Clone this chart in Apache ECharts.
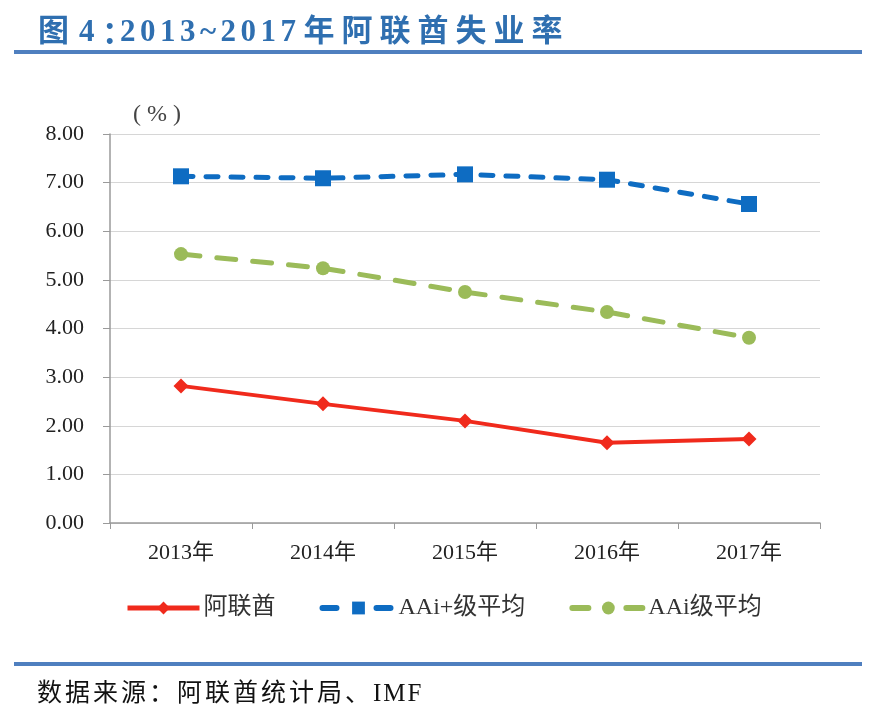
<!DOCTYPE html>
<html><head><meta charset="utf-8">
<script src="https://cdn.jsdelivr.net/npm/echarts@6/dist/echarts.min.js"></script>
<style>html,body{margin:0;padding:0;background:#fff}#c{width:876px;height:718px}</style>
</head><body><div id="c"></div>
<script>
const categories = ['2013年','2014年','2015年','2016年','2017年'];
const uae = [2.82, 2.45, 2.10, 1.65, 1.73];
const aaiPlus = [7.13, 7.09, 7.17, 7.06, 6.56];
const aai = [5.53, 5.24, 4.75, 4.34, 3.81];
const yTicks = [0, 8, 1];
const titleText = '图 4：2013~2017 年阿联酋失业率';
const sourceText = '数据来源：阿联酋统计局、IMF';
const unitText = '(%)';

const serif = '"Liberation Serif","Times New Roman","Noto Sans CJK SC",serif';
const ctx = document.createElement('canvas').getContext('2d');
const isCJK = ch => /[\u3000-\u9fff\uff00-\uffef]/.test(ch);
function spacedText(str, x, y, font, spCJK, spOther, color, over) {
  ctx.font = font;
  over = over || {};
  const out = [];
  let cx = x;
  for (const ch of str) {
    const o = over[ch] || {};
    out.push({type:'text', x: cx + (o.dx || 0), y: y + (o.dy || 0), silent:true,
      style:{text: ch, font: font, fill: color, textVerticalAlign:'middle', textBaseline:'middle'}});
    cx += (o.adv !== undefined) ? o.adv : ctx.measureText(ch).width + (isCJK(ch) ? spCJK : spOther);
  }
  return out;
}

const chart = echarts.init(document.getElementById('c'));
const graphics = [].concat(
  spacedText(titleText, 38, 33, 'bold 31px '+serif, 7, 4.5, '#2F6FB0',
             {' ': {adv: 3}, '：': {dx: 3, dy: 2, adv: 21}}),
  [
    {type:'rect', shape:{x:14, y:50, width:848, height:4}, style:{fill:'#4F7FBF'}},
    {type:'rect', shape:{x:14, y:662, width:848, height:4}, style:{fill:'#4F7FBF'}}
  ],
  spacedText(unitText, 133, 115, '24px '+serif, 0, 6, '#444'),
  spacedText(sourceText, 37, 694, '25px '+serif, 3, 2, '#111')
);

chart.setOption({
  backgroundColor: '#fff',
  animation: false,
  graphic: graphics,
  grid: {left:110, right:56, top:134, bottom:195},
  legend: {
    left: 120, top: 591, itemWidth: 72, itemHeight: 16, itemGap: 44,
    textStyle: {fontSize: 24, fontFamily: serif, color: '#333', padding:[0,0,0,-1]},
    data: [
      {name:'阿联酋', lineStyle:{width:5}},
      {name:'AAi+级平均', lineStyle:{type:[14,40], cap:'round', width:6}},
      {name:'AAi级平均', lineStyle:{type:[16,38], cap:'round', width:6}}
    ]
  },
  xAxis: {
    type: 'category', data: categories, boundaryGap: true,
    axisLine: {lineStyle:{color:'#9a9a9a', width:1.5}},
    axisTick: {show:true, length:6, lineStyle:{color:'#9a9a9a'}},
    axisLabel: {fontSize:22, fontFamily: serif, color:'#222', margin:19}
  },
  yAxis: {
    type: 'value', min: yTicks[0], max: yTicks[1], interval: yTicks[2],
    axisLine: {show:true, lineStyle:{color:'#9a9a9a', width:1.5}},
    axisTick: {show:true, length:7, lineStyle:{color:'#9a9a9a'}},
    splitLine: {lineStyle:{color:'#d6d6d6', width:1}},
    axisLabel: {fontSize:22, fontFamily: serif, color:'#222', margin:26, formatter: v => v.toFixed(2)}
  },
  series: [
    {name:'阿联酋', type:'line', data: uae, symbol:'diamond', symbolSize:15,
     lineStyle:{color:'#F02A1C', width:4}, itemStyle:{color:'#F02A1C'}},
    {name:'AAi+级平均', type:'line', data: aaiPlus, symbol:'rect', symbolSize:16,
     lineStyle:{color:'#0E6CC2', width:5, type:[12,13], cap:'round'}, itemStyle:{color:'#0E6CC2'}},
    {name:'AAi级平均', type:'line', data: aai, symbol:'circle', symbolSize:14,
     lineStyle:{color:'#9BBB59', width:5, type:[19,17], cap:'round'}, itemStyle:{color:'#9BBB59'}}
  ]
});
</script></body></html>
